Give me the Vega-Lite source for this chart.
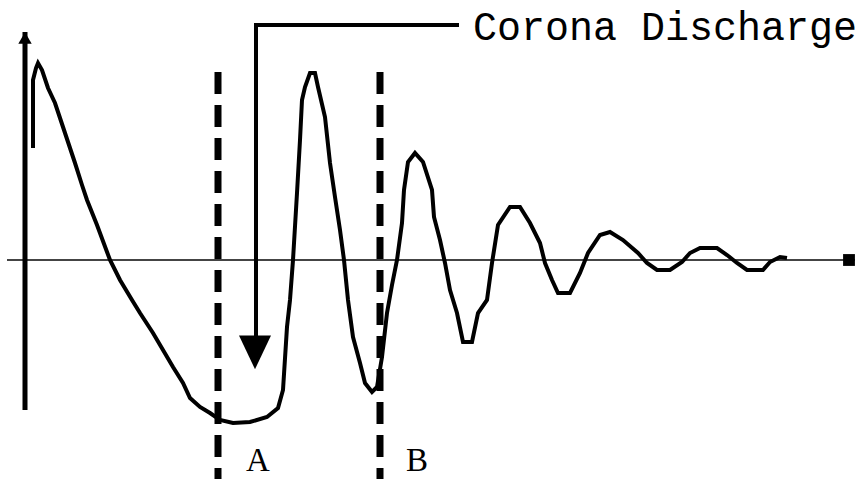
{
  "$schema": "https://vega.github.io/schema/vega-lite/v6.json",
  "width": 859,
  "height": 479,
  "padding": 0,
  "autosize": {"type": "none"},
  "background": "white",
  "config": {"view": {"stroke": null}},
  "datasets": {
    "wave": [
      {"i":0,"t":33,"v":112},{"i":1,"t":33,"v":180},{"i":2,"t":36,"v":192},{"i":3,"t":38,"v":197},{"i":4,"t":42,"v":190},{"i":5,"t":48,"v":172},{"i":6,"t":55,"v":157},{"i":7,"t":60,"v":142},{"i":8,"t":65,"v":127},{"i":9,"t":70,"v":112},{"i":10,"t":75,"v":97},{"i":11,"t":82,"v":75},{"i":12,"t":87,"v":60},{"i":13,"t":97,"v":35},{"i":14,"t":110,"v":0},{"i":15,"t":120,"v":-20},{"i":16,"t":132,"v":-40},{"i":17,"t":140,"v":-53},{"i":18,"t":153,"v":-73},{"i":19,"t":163,"v":-90},{"i":20,"t":173,"v":-107},{"i":21,"t":183,"v":-123},{"i":22,"t":190,"v":-138},{"i":23,"t":200,"v":-147},{"i":24,"t":210,"v":-153},{"i":25,"t":220,"v":-160},{"i":26,"t":233,"v":-163},{"i":27,"t":250,"v":-162},{"i":28,"t":267,"v":-157},{"i":29,"t":278,"v":-148},{"i":30,"t":283,"v":-130},{"i":31,"t":287,"v":-67},{"i":32,"t":290,"v":-40},{"i":33,"t":293,"v":0},{"i":34,"t":297,"v":67},{"i":35,"t":300,"v":120},{"i":36,"t":302,"v":160},{"i":37,"t":305,"v":173},{"i":38,"t":310,"v":187},{"i":39,"t":315,"v":187},{"i":40,"t":318,"v":173},{"i":41,"t":325,"v":143},{"i":42,"t":330,"v":97},{"i":43,"t":335,"v":63},{"i":44,"t":340,"v":30},{"i":45,"t":344,"v":0},{"i":46,"t":348,"v":-40},{"i":47,"t":353,"v":-77},{"i":48,"t":360,"v":-103},{"i":49,"t":365,"v":-123},{"i":50,"t":372,"v":-132},{"i":51,"t":377,"v":-127},{"i":52,"t":382,"v":-97},{"i":53,"t":387,"v":-53},{"i":54,"t":392,"v":-25},{"i":55,"t":397,"v":0},{"i":56,"t":402,"v":37},{"i":57,"t":404,"v":70},{"i":58,"t":408,"v":98},{"i":59,"t":415,"v":107},{"i":60,"t":423,"v":98},{"i":61,"t":432,"v":70},{"i":62,"t":434,"v":43},{"i":63,"t":440,"v":20},{"i":64,"t":445,"v":-3},{"i":65,"t":450,"v":-30},{"i":66,"t":457,"v":-53},{"i":67,"t":463,"v":-82},{"i":68,"t":472,"v":-82},{"i":69,"t":478,"v":-53},{"i":70,"t":487,"v":-40},{"i":71,"t":492,"v":-3},{"i":72,"t":498,"v":35},{"i":73,"t":510,"v":53},{"i":74,"t":520,"v":53},{"i":75,"t":530,"v":37},{"i":76,"t":540,"v":17},{"i":77,"t":545,"v":-3},{"i":78,"t":552,"v":-20},{"i":79,"t":558,"v":-33},{"i":80,"t":570,"v":-33},{"i":81,"t":580,"v":-13},{"i":82,"t":588,"v":7},{"i":83,"t":600,"v":25},{"i":84,"t":610,"v":28},{"i":85,"t":623,"v":20},{"i":86,"t":638,"v":7},{"i":87,"t":647,"v":-3},{"i":88,"t":657,"v":-10},{"i":89,"t":670,"v":-10},{"i":90,"t":682,"v":-2},{"i":91,"t":690,"v":7},{"i":92,"t":700,"v":12},{"i":93,"t":717,"v":12},{"i":94,"t":727,"v":5},{"i":95,"t":737,"v":-3},{"i":96,"t":747,"v":-10},{"i":97,"t":763,"v":-10},{"i":98,"t":770,"v":-2},{"i":99,"t":780,"v":3},{"i":100,"t":787,"v":2}
    ],
    "callout": [
      {"i":0,"t":457,"v":235},{"i":1,"t":256,"v":235},{"i":2,"t":256,"v":-75}
    ]
  },
  "layer": [
    {
      "data": {"values": [{"t": 7, "t2": 855, "v": 0}]},
      "mark": {"type": "rule", "color": "#444", "strokeWidth": 2},
      "encoding": {
        "x": {"field": "t", "type": "quantitative", "scale": {"domain": [0, 859], "nice": false, "zero": false}, "axis": null},
        "x2": {"field": "t2"},
        "y": {"field": "v", "type": "quantitative", "scale": {"domain": [-219, 260], "nice": false, "zero": false}, "axis": null}
      }
    },
    {
      "data": {"values": [{"t": 25, "v": -150, "v2": 228}]},
      "mark": {"type": "rule", "color": "black", "strokeWidth": 5},
      "encoding": {
        "x": {"field": "t", "type": "quantitative"},
        "y": {"field": "v", "type": "quantitative"},
        "y2": {"field": "v2"}
      }
    },
    {
      "data": {"values": [{"t": 25, "v": 222}]},
      "mark": {"type": "point", "shape": "triangle-up", "filled": true, "color": "black", "size": 180, "opacity": 1},
      "encoding": {
        "x": {"field": "t", "type": "quantitative"},
        "y": {"field": "v", "type": "quantitative"}
      }
    },
    {
      "data": {"values": [{"t": 849, "v": 0}]},
      "mark": {"type": "point", "shape": "square", "filled": true, "color": "black", "size": 140, "opacity": 1},
      "encoding": {
        "x": {"field": "t", "type": "quantitative"},
        "y": {"field": "v", "type": "quantitative"}
      }
    },
    {
      "data": {"values": [{"t": 218, "v": 188, "v2": -219}, {"t": 380, "v": 188, "v2": -219}]},
      "mark": {"type": "rule", "color": "black", "strokeWidth": 7, "strokeDash": [22, 11]},
      "encoding": {
        "x": {"field": "t", "type": "quantitative"},
        "y": {"field": "v", "type": "quantitative"},
        "y2": {"field": "v2"}
      }
    },
    {
      "data": {"name": "wave"},
      "mark": {"type": "line", "color": "black", "strokeWidth": 4, "strokeJoin": "miter"},
      "encoding": {
        "x": {"field": "t", "type": "quantitative"},
        "y": {"field": "v", "type": "quantitative"},
        "order": {"field": "i", "type": "quantitative"}
      }
    },
    {
      "data": {"name": "callout"},
      "mark": {"type": "line", "color": "black", "strokeWidth": 4, "strokeJoin": "miter", "strokeCap": "square"},
      "encoding": {
        "x": {"field": "t", "type": "quantitative"},
        "y": {"field": "v", "type": "quantitative"},
        "order": {"field": "i", "type": "quantitative"}
      }
    },
    {
      "data": {"values": [{"t": 255, "v": -90}]},
      "mark": {"type": "point", "shape": "M-1,-0.9L1,-0.9L0,1.2Z", "filled": true, "color": "black", "size": 1024, "opacity": 1},
      "encoding": {
        "x": {"field": "t", "type": "quantitative"},
        "y": {"field": "v", "type": "quantitative"}
      }
    },
    {
      "data": {"values": [{"t": 473, "v": 220, "label": "Corona Discharge"}]},
      "mark": {"type": "text", "align": "left", "baseline": "alphabetic", "font": "Liberation Mono", "fontSize": 40, "color": "black"},
      "encoding": {
        "x": {"field": "t", "type": "quantitative"},
        "y": {"field": "v", "type": "quantitative"},
        "text": {"field": "label"}
      }
    },
    {
      "data": {"values": [{"t": 258, "v": -218, "label": "A"}, {"t": 417, "v": -218, "label": "B"}]},
      "mark": {"type": "text", "align": "center", "baseline": "bottom", "font": "Liberation Serif", "fontSize": 33, "color": "black"},
      "encoding": {
        "x": {"field": "t", "type": "quantitative"},
        "y": {"field": "v", "type": "quantitative"},
        "text": {"field": "label"}
      }
    }
  ]
}
